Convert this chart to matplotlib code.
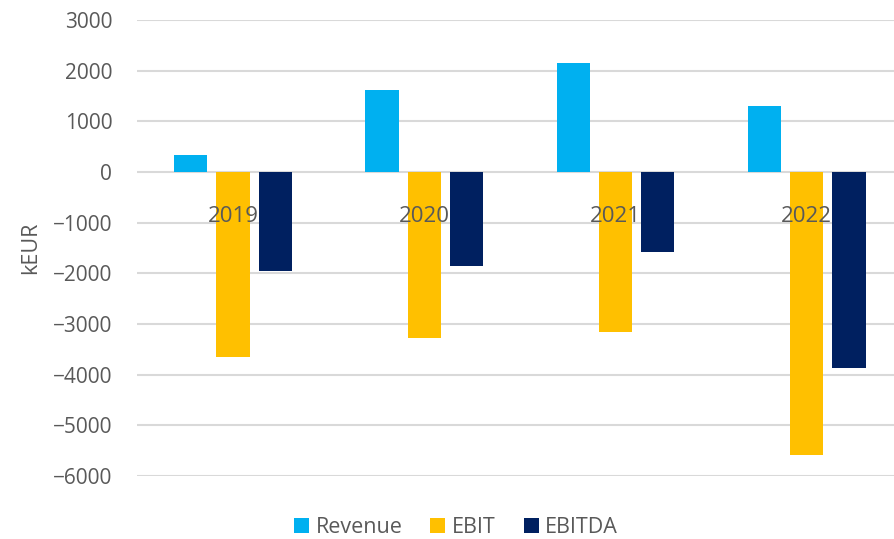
import matplotlib.pyplot as plt
import numpy as np

plt.rcParams['font.family'] = ['Open Sans', 'DejaVu Sans']

years = ["2019", "2020", "2021", "2022"]
revenue = [330, 1620, 2150, 1300]
ebit = [-3650, -3280, -3165, -5580]
ebitda = [-1965, -1855, -1575, -3875]

series = [("Revenue", revenue, "#00B0F0"),
          ("EBIT", ebit, "#FFC000"),
          ("EBITDA", ebitda, "#002060")]

grey = "#595959"

fig = plt.figure(figsize=(8.94, 5.39), dpi=100)
ax = fig.add_axes([0.1535, 0.117, 0.856, 0.846])

x = np.arange(len(years))
width = 0.174
step = 0.221
for i, (name, vals, col) in enumerate(series):
    # last series covers the category labels, like in the original
    ax.bar(x + (i - 1) * step, vals, width, color=col, label=name,
           zorder=3 if i == 2 else 2)

ax.set_ylim(-6000, 3000)
ax.set_yticks(range(-6000, 3001, 1000))
ax.set_yticklabels([str(v).replace("-", "\u2212") for v in range(-6000, 3001, 1000)])
ax.set_xlim(-0.5, len(years) - 0.5)
ax.set_xticks([])

# category labels sit just under the zero line
for xi, yr in zip(x, years):
    ax.annotate(yr, (xi, 0), xytext=(0, -32), textcoords="offset points",
                ha="center", va="center", fontsize=16, color=grey, zorder=2.5)

ax.set_axisbelow(True)
ax.yaxis.grid(True, color="#D9D9D9", linewidth=1.5)
for s in ax.spines.values():
    s.set_visible(False)

ax.tick_params(axis='y', length=0, labelsize=15, labelcolor=grey, pad=18)

ax.set_ylabel("kEUR", fontsize=15.5, color=grey, labelpad=8)

fig.legend(*ax.get_legend_handles_labels(), loc="center", bbox_to_anchor=(0.51, 0.022),
           ncol=3, frameon=False, fontsize=15.5, labelcolor=grey,
           handlelength=0.7, handleheight=0.7, handletextpad=0.3, columnspacing=1.3)

fig.savefig("out.png", dpi=100)
